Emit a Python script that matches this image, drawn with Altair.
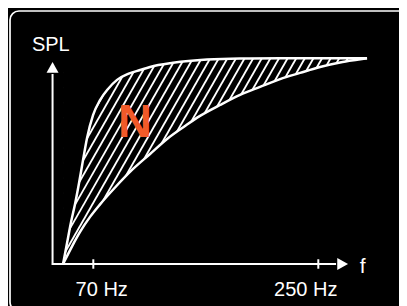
import altair as alt
import pandas as pd
import numpy as np

# ---- data (f in Hz, SPL in arbitrary units) ----
upper_hz = [45.8, 49.0, 52.2, 55.4, 58.6, 61.8, 65.0, 69.8, 75.4, 81.8, 89.0, 97.8,
            107.4, 115.4, 133.8, 161.0, 187.4, 219.4, 289.0]
upper_spl = [0, 10.2, 20.4, 29.2, 39.4, 50.6, 61.3, 72.4, 79.7, 85.1, 89.5, 92.4,
             94.3, 95.8, 97.8, 99.4, 99.9, 100, 100]
lower_hz = [45.8, 53.0, 59.4, 67.4, 75.4, 87.4, 101.8, 115.4, 129.0, 143.4, 155.4,
            171.4, 187.4, 203.4, 219.4, 235.4, 251.4, 267.4, 281.0, 289.0]
lower_spl = [0, 8.6, 15.6, 22.9, 29.0, 37.2, 46.2, 53.5, 60.8, 67.1, 72.0,
             77.3, 82.2, 86.1, 89.9, 92.9, 95.8, 98.0, 99.3, 100]
tick_hz = [70, 250]
tick_labels = ["70 Hz", "250 Hz"]
axis_origin = [37.4, 0.0]      # (Hz, SPL) where the axes meet
axis_x_tip = 273.8             # Hz at the x arrow tip
axis_y_tip = 98.2              # SPL at the y arrow tip
region_label = "N"
region_label_pos = [103.4, 61.9]
y_title = "SPL"
x_title = "f"

W, H = 391, 298
X_DOMAIN = [1.76, 314.56]
Y_DOMAIN = [-20.42, 124.45]
PX_HZ = W / (X_DOMAIN[1] - X_DOMAIN[0])
PX_SPL = H / (Y_DOMAIN[1] - Y_DOMAIN[0])

xs = alt.Scale(domain=X_DOMAIN, nice=False, zero=False)
ys = alt.Scale(domain=Y_DOMAIN, nice=False, zero=False)


def X(field=None, datum=None):
    if datum is not None:
        return alt.X(datum=datum, type="quantitative", scale=xs, axis=None)
    return alt.X(field, type="quantitative", scale=xs, axis=None)


def Y(field=None, datum=None):
    if datum is not None:
        return alt.Y(datum=datum, type="quantitative", scale=ys, axis=None)
    return alt.Y(field, type="quantitative", scale=ys, axis=None)


one = pd.DataFrame({"k": [0]})

# ---- hatch pattern (style) between the curves ----
slope_px = 1.75                  # rise per run of hatch lines, in pixels
gap_px = 8.6                     # horizontal gap between hatch lines
m = (PX_SPL / slope_px) / PX_HZ  # Hz per SPL along a hatch line
x0, x1 = min(upper_hz) + 0.8, max(upper_hz) - 0.8
rows = []
a = x0 - 100 * m
while a < x1:
    s0 = max(0.0, (x0 - a) / m)
    s1 = min(100.0, (x1 - a) / m)
    if s1 > s0:
        rows.append({"hx": a + m * s0, "hy": s0, "hx2": a + m * s1, "hy2": s1})
    a += gap_px / PX_HZ
hatch_df = pd.DataFrame(rows)

hatch = alt.Chart(hatch_df).mark_rule(color="white", strokeWidth=1.8).encode(
    x=X("hx"), y=Y("hy"), x2="hx2:Q", y2="hy2:Q")

up_df = pd.DataFrame({"hz": upper_hz, "spl": upper_spl})
lo_df = pd.DataFrame({"hz": lower_hz, "spl": lower_spl})

mask_top = alt.Chart(up_df).mark_area(color="black", interpolate="monotone",
                                       orient="vertical").encode(
    x=X("hz"), y=Y("spl"), y2=alt.Y2(datum=104))
mask_bot = alt.Chart(lo_df).mark_area(color="black", interpolate="monotone",
                                       orient="vertical").encode(
    x=X("hz"), y=Y("spl"), y2=alt.Y2(datum=-2))

curves_df = pd.concat([up_df.assign(curve="upper"), lo_df.assign(curve="lower")])
curves = alt.Chart(curves_df).mark_line(color="white", strokeWidth=2.5,
                                         interpolate="monotone").encode(
    x=X("hz"), y=Y("spl"), detail="curve:N")

# ---- axes with arrows ----
arrow_r = 6.0
y_axis = alt.Chart(one).mark_rule(color="white", strokeWidth=2).encode(
    x=X(datum=axis_origin[0]), y=Y(datum=axis_origin[1] - 0.5),
    y2=alt.Y2(datum=axis_y_tip - 2 * arrow_r / PX_SPL))
x_axis = alt.Chart(one).mark_rule(color="white", strokeWidth=2).encode(
    y=Y(datum=axis_origin[1]), x=X(datum=axis_origin[0] - 0.5),
    x2=alt.X2(datum=axis_x_tip - 2 * arrow_r / PX_HZ))
y_arrow = alt.Chart(one).mark_point(shape="M0,-1L1,0.8L-1,0.8Z", filled=True, size=(2 * arrow_r) ** 2,
                                    color="white", opacity=1).encode(
    x=X(datum=axis_origin[0]), y=Y(datum=axis_y_tip - arrow_r / PX_SPL))
x_arrow = alt.Chart(one).mark_point(shape="M1,0L-0.8,-1L-0.8,1Z", filled=True, size=(2 * arrow_r) ** 2,
                                    color="white", opacity=1).encode(
    x=X(datum=axis_x_tip - arrow_r / PX_HZ), y=Y(datum=axis_origin[1]))

ticks_df = pd.DataFrame({"hz": tick_hz, "label": tick_labels})
ticks = alt.Chart(ticks_df).mark_rule(color="white", strokeWidth=2).encode(
    x=X("hz"), y=Y(datum=-2.3), y2=alt.Y2(datum=2.3))

font = "Liberation Sans"
lab1 = alt.Chart(ticks_df.iloc[[0]]).mark_text(
    color="white", font=font, fontSize=20, align="center", baseline="alphabetic",
    dx=8.4, dy=32).encode(x=X("hz"), y=Y(datum=0), text="label:N")
lab2 = alt.Chart(ticks_df.iloc[[1]]).mark_text(
    color="white", font=font, fontSize=20, align="center", baseline="alphabetic",
    dx=-12.5, dy=32).encode(x=X("hz"), y=Y(datum=0), text="label:N")

ytitle = alt.Chart(one).mark_text(
    color="white", font=font, fontSize=20, align="center", baseline="alphabetic",
    dx=-1.7, dy=-11.3, text=y_title).encode(
    x=X(datum=axis_origin[0]), y=Y(datum=axis_y_tip))
xtitle = alt.Chart(one).mark_text(
    color="white", font=font, fontSize=21, align="center", baseline="alphabetic",
    dx=14.5, dy=9.3, text=x_title).encode(
    x=X(datum=axis_x_tip), y=Y(datum=axis_origin[1]))

nlabel = alt.Chart(one).mark_text(
    color="#F15A29", font=font, fontSize=47, fontWeight="bold", align="center",
    baseline="alphabetic", text=region_label).encode(
    x=X(datum=region_label_pos[0]), y=Y(datum=region_label_pos[1]))

border = alt.Chart(one).mark_rect(filled=False, color="white", strokeWidth=1.7,
                                  cornerRadius=9).encode(
    x=alt.value(2), x2=alt.value(402), y=alt.value(3), y2=alt.value(303))

chart = alt.layer(
    hatch, mask_top, mask_bot, curves, y_axis, x_axis, y_arrow, x_arrow, ticks,
    lab1, lab2, ytitle, xtitle, nlabel, border
).properties(
    width=W, height=H, padding=0, background="black",
    autosize=alt.AutoSizeParams(type="none")
).configure_view(strokeWidth=0)

chart.save("out.html", embed_options={"renderer": "svg", "actions": False})
